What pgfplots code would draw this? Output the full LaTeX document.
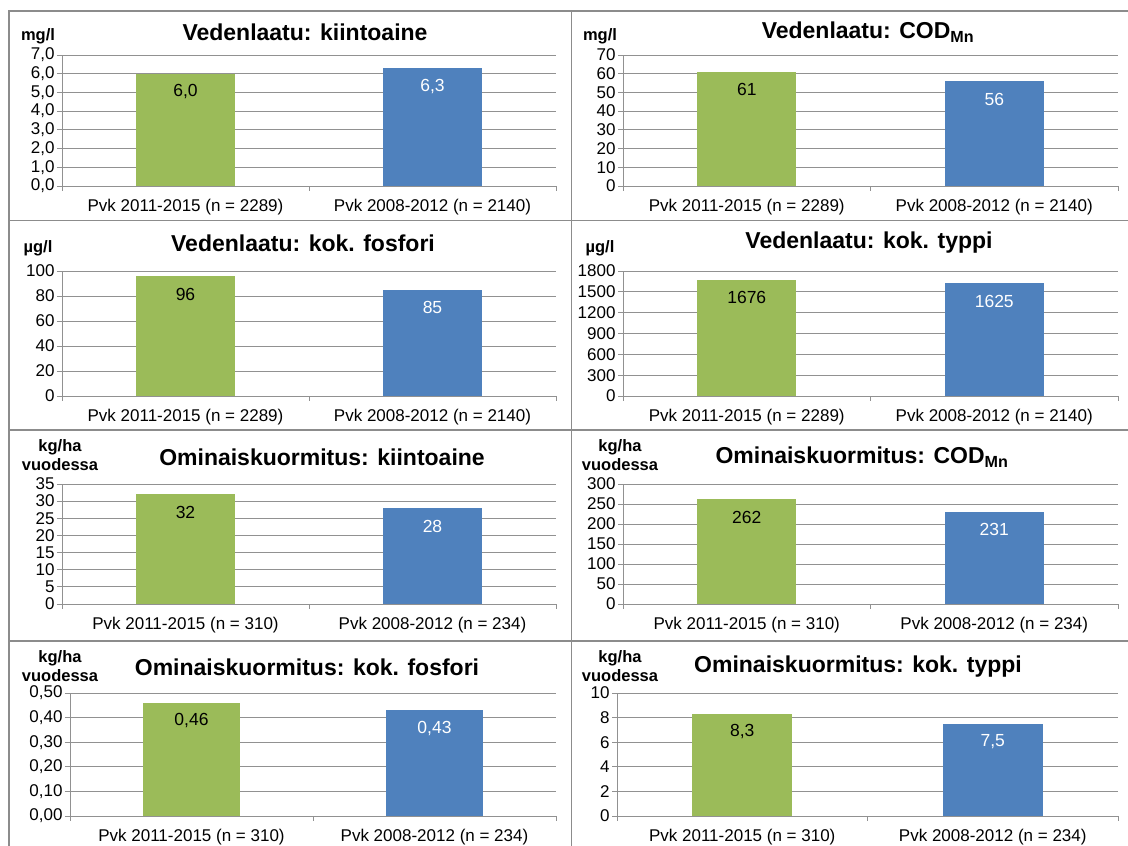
\documentclass[border=0pt]{standalone}
\usepackage{fontspec}
\setmainfont{Liberation Sans}
\usepackage{pgfplots}
\pgfplotsset{compat=1.18}

\definecolor{barGreen}{RGB}{155,187,89}
\definecolor{barBlue}{RGB}{79,129,189}
\definecolor{gridgray}{RGB}{145,145,145}
\definecolor{framegray}{RGB}{140,140,140}

\pgfplotsset{
  panel/.style={
    scale only axis, anchor=south west,
    xmin=-0.5, xmax=1.5, ymin=0,
    axis x line*=bottom, axis y line*=left,
    axis line style={draw=gridgray, line width=0.9pt},
    ymajorgrids, grid style={draw=gridgray, line width=0.9pt},
    tick align=outside, major tick length=5pt,
    tick style={draw=gridgray, line width=0.9pt},
    xtick={-0.5,0.5,1.5}, xticklabels={},
    extra x ticks={0,1},
    extra x tick style={major tick length=0pt, xticklabel style={yshift=-10pt}},
    yticklabel style={font=\fontsize{17}{19}\selectfont, xshift=1pt},
    xticklabel style={font=\fontsize{17}{20}\selectfont},
    /pgf/number format/assume math mode=true,
    /pgf/number format/use comma,
    /pgf/number format/1000 sep={},
  },
  vbar/.style={ybar, bar width=0.4, bar shift=0pt, draw=none, fill=#1,
    nodes near coords, point meta=explicit symbolic,
    nodes near coords align={center},
    every node near coord/.append style={yshift=-18pt,
      font=\fontsize{17.5}{20}\selectfont}},
}

\begin{document}
\begin{tikzpicture}
\path[use as bounding box] (0pt,0pt) rectangle (1128pt,846pt);

% frame lines
\begin{scope}[draw=framegray, line width=1.6pt]
\draw (1128pt,835pt) -- (9pt,835pt) -- (9pt,0pt);
\draw (571.5pt,835pt) -- (571.5pt,0pt);
\draw (9pt,625.5pt) -- (1128pt,625.5pt);
\draw (9pt,416pt) -- (1128pt,416pt);
\draw (9pt,205pt) -- (1128pt,205pt);
\end{scope}

% row 1
\begin{axis}[panel, at={(62pt,660pt)}, width=494pt, height=131pt,
  ymax=7, ytick={0,1,...,7},
  yticklabel style={/pgf/number format/.cd, fixed, fixed zerofill, precision=1},
  extra x tick labels={Pvk 2011-2015 (n = 2289), Pvk 2008-2012 (n = 2140)}]
\addplot[vbar=barGreen, every node near coord/.append style={text=black}] coordinates {(0,6.0) [6,0]};
\addplot[vbar=barBlue, every node near coord/.append style={text=white}] coordinates {(1,6.3) [6,3]};
\end{axis}

\begin{axis}[panel, at={(623pt,660pt)}, width=495pt, height=131pt,
  ymax=70, ytick={0,10,...,70},
  extra x tick labels={Pvk 2011-2015 (n = 2289), Pvk 2008-2012 (n = 2140)}]
\addplot[vbar=barGreen, every node near coord/.append style={text=black}] coordinates {(0,61) [61]};
\addplot[vbar=barBlue, every node near coord/.append style={text=white}] coordinates {(1,56) [56]};
\end{axis}

% row 2
\begin{axis}[panel, at={(62pt,450pt)}, width=494pt, height=125pt,
  ymax=100, ytick={0,20,...,100},
  extra x tick labels={Pvk 2011-2015 (n = 2289), Pvk 2008-2012 (n = 2140)}]
\addplot[vbar=barGreen, every node near coord/.append style={text=black}] coordinates {(0,96) [96]};
\addplot[vbar=barBlue, every node near coord/.append style={text=white}] coordinates {(1,85) [85]};
\end{axis}

\begin{axis}[panel, at={(623pt,450pt)}, width=495pt, height=125pt,
  ymax=1800, ytick={0,300,...,1800},
  extra x tick labels={Pvk 2011-2015 (n = 2289), Pvk 2008-2012 (n = 2140)}]
\addplot[vbar=barGreen, every node near coord/.append style={text=black}] coordinates {(0,1676) [1676]};
\addplot[vbar=barBlue, every node near coord/.append style={text=white}] coordinates {(1,1625) [1625]};
\end{axis}

% row 3
\begin{axis}[panel, at={(62pt,242pt)}, width=494pt, height=120pt,
  ymax=35, ytick={0,5,...,35},
  extra x tick labels={Pvk 2011-2015 (n = 310), Pvk 2008-2012 (n = 234)}]
\addplot[vbar=barGreen, every node near coord/.append style={text=black}] coordinates {(0,32) [32]};
\addplot[vbar=barBlue, every node near coord/.append style={text=white}] coordinates {(1,28) [28]};
\end{axis}

\begin{axis}[panel, at={(623pt,242pt)}, width=495pt, height=120pt,
  ymax=300, ytick={0,50,...,300},
  extra x tick labels={Pvk 2011-2015 (n = 310), Pvk 2008-2012 (n = 234)}]
\addplot[vbar=barGreen, every node near coord/.append style={text=black}] coordinates {(0,262) [262]};
\addplot[vbar=barBlue, every node near coord/.append style={text=white}] coordinates {(1,231) [231]};
\end{axis}

% row 4
\begin{axis}[panel, at={(70pt,30pt)}, width=486pt, height=123pt,
  ymax=0.5, ytick={0,0.1,0.2,0.3,0.4,0.5},
  yticklabel style={/pgf/number format/.cd, fixed, fixed zerofill, precision=2},
  extra x tick labels={Pvk 2011-2015 (n = 310), Pvk 2008-2012 (n = 234)}]
\addplot[vbar=barGreen, every node near coord/.append style={text=black}] coordinates {(0,0.46) [{0,46}]};
\addplot[vbar=barBlue, every node near coord/.append style={text=white}] coordinates {(1,0.43) [{0,43}]};
\end{axis}

\begin{axis}[panel, at={(617pt,30pt)}, width=501pt, height=123pt,
  ymax=10, ytick={0,2,...,10},
  extra x tick labels={Pvk 2011-2015 (n = 310), Pvk 2008-2012 (n = 234)}]
\addplot[vbar=barGreen, every node near coord/.append style={text=black}] coordinates {(0,8.3) [{8,3}]};
\addplot[vbar=barBlue, every node near coord/.append style={text=white}] coordinates {(1,7.5) [{7,5}]};
\end{axis}

% titles
\begin{scope}[every node/.style={font=\fontsize{23}{27}\selectfont\bfseries, inner sep=0pt}]
\node at (305pt,814pt) {Vedenlaatu: kiintoaine};
\node at (868pt,814pt) {Vedenlaatu: COD\textsubscript{Mn}};
\node at (303pt,603pt) {Vedenlaatu: kok. fosfori};
\node at (869pt,603pt) {Vedenlaatu: kok. typpi};
\node at (322pt,389pt) {Ominaiskuormitus: kiintoaine};
\node at (862pt,389pt) {Ominaiskuormitus: COD\textsubscript{Mn}};
\node at (307pt,179pt) {Ominaiskuormitus: kok. fosfori};
\node at (858pt,179pt) {Ominaiskuormitus: kok. typpi};
\end{scope}

% unit labels
\begin{scope}[every node/.style={font=\fontsize{16.5}{19.5}\selectfont\bfseries, inner sep=0pt, align=center}]
\node at (38pt,810pt) {mg/l};
\node at (600pt,810pt) {mg/l};
\node at (38pt,598pt) {µg/l};
\node at (600pt,598pt) {µg/l};
\node at (60pt,391pt) {kg/ha\\vuodessa};
\node at (620pt,391pt) {kg/ha\\vuodessa};
\node at (60pt,180pt) {kg/ha\\vuodessa};
\node at (620pt,180pt) {kg/ha\\vuodessa};
\end{scope}
\end{tikzpicture}
\end{document}
